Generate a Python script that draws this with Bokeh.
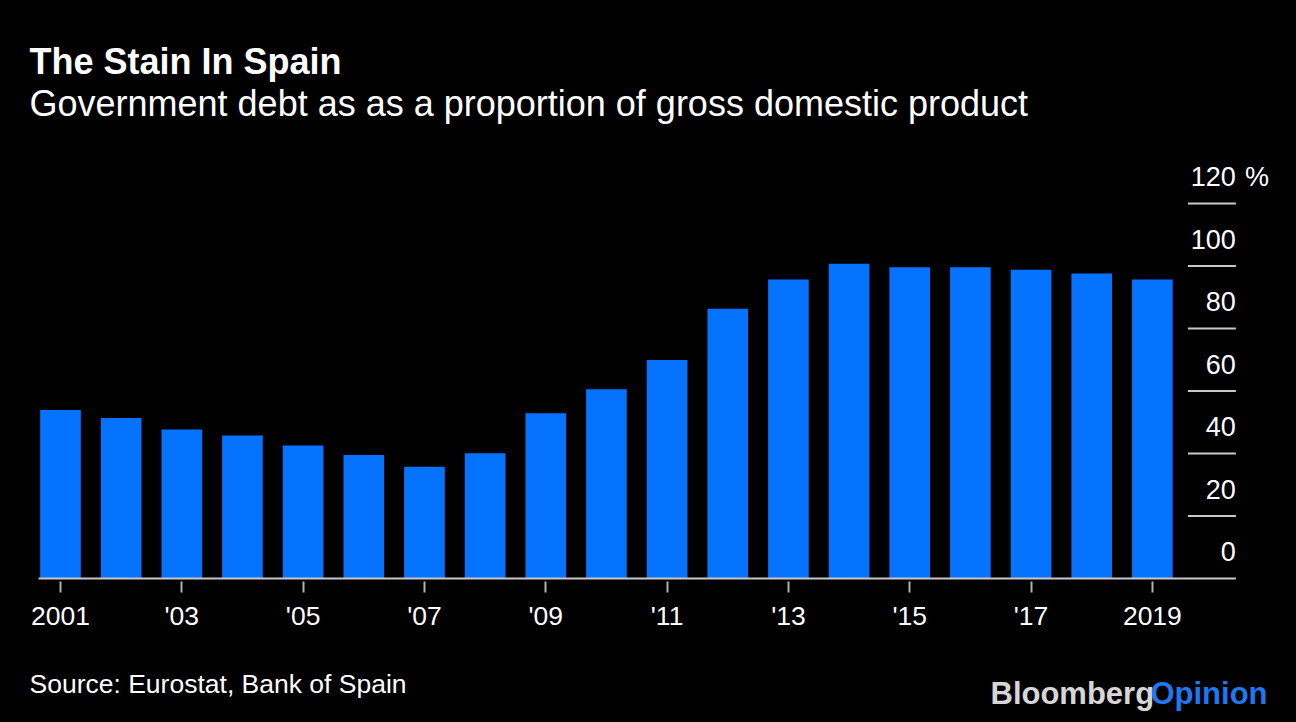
from bokeh.plotting import figure
from bokeh.models import Range1d, FixedTicker, ColumnDataSource
from bokeh.layouts import column
from bokeh.core.properties import value
from bokeh.embed import file_html
from bokeh.resources import INLINE

# ---- data ----
years = [2001, 2002, 2003, 2004, 2005, 2006, 2007, 2008, 2009, 2010,
         2011, 2012, 2013, 2014, 2015, 2016, 2017, 2018, 2019]
debt_pct = [53.9, 51.4, 47.7, 45.8, 42.6, 39.5, 35.8, 40.1, 52.9, 60.6,
            69.9, 86.3, 95.7, 100.7, 99.6, 99.6, 98.8, 97.6, 95.7]
x_tick_years = [2001, 2003, 2005, 2007, 2009, 2011, 2013, 2015, 2017, 2019]
x_tick_labels = ["2001", "'03", "'05", "'07", "'09", "'11", "'13", "'15", "'17", "2019"]
y_ticks = [0, 20, 40, 60, 80, 100, 120]
y_tick_labels = ["0", "20", "40", "60", "80", "100", "120"]
y_unit = "%"

title = "The Stain In Spain"
subtitle = "Government debt as as a proportion of gross domestic product"
source = "Source: Eurostat, Bank of Spain"
brand = ["Bloomberg", "Opinion"]

# ---- style ----
FONT = "Liberation Sans"
BG = "#000000"
BAR = "#0673ff"
GRID = "#c8c8c8"
TXT = "#ffffff"

W = 1296
HEAD_H, MAIN_H, FOOT_H = 150, 500, 72
px_per_year = 60.66
px_per_unit = 3.125
first_year_px = 60.0          # x of first bar centre
frame_h = 431                 # main frame height (bottom at page y 581)
x_start = years[0] - first_year_px / px_per_year
x_end = x_start + W / px_per_year
y_start = -3.0 / px_per_unit
y_end = y_start + frame_h / px_per_unit


def blank(h):
    f = figure(width=W, height=h, output_backend="svg", toolbar_location=None,
               x_range=Range1d(0, W), y_range=Range1d(h, 0),
               x_axis_location=None, y_axis_location=None,
               min_border=0, min_border_left=0, min_border_right=0,
               min_border_top=0, min_border_bottom=0,
               background_fill_color=BG, border_fill_color=BG, outline_line_color=None)
    f.grid.visible = False
    return f


# ---- header ----
head = blank(HEAD_H)
head.text(x=[29], y=[61], text=[title], text_font=value(FONT), text_font_size="36px",
          text_font_style="bold", text_color=TXT, text_baseline="alphabetic")
head.text(x=[29], y=[103], text=[subtitle], text_font=value(FONT), text_font_size="36px",
          text_color=TXT, text_baseline="alphabetic")

# ---- main chart ----
p = figure(width=W, height=MAIN_H, output_backend="svg", toolbar_location=None,
           x_range=Range1d(x_start, x_end), y_range=Range1d(y_start, y_end),
           y_axis_location=None, min_border_left=0, min_border_right=0,
           min_border_top=0, min_border_bottom=MAIN_H - frame_h,
           background_fill_color=BG, border_fill_color=BG, outline_line_color=None)
p.grid.visible = False

src = ColumnDataSource(dict(year=years, debt=debt_pct))
p.vbar(x="year", top="debt", bottom=0, width=0.67, source=src,
       fill_color=BAR, line_color=None)

grid_x0 = years[-1] + (1187 - 1151.5) / px_per_year
grid_x1 = years[-1] + (1235 - 1151.5) / px_per_year
base_x0 = years[0] - (60 - 38) / px_per_year
p.segment(x0=[base_x0], y0=[0], x1=[grid_x1], y1=[0], line_color=GRID, line_width=2)
p.segment(x0=[grid_x0] * (len(y_ticks) - 1), y0=y_ticks[1:],
          x1=[grid_x1] * (len(y_ticks) - 1), y1=y_ticks[1:],
          line_color=GRID, line_width=2)

p.text(x=[grid_x1] * len(y_ticks), y=y_ticks, text=y_tick_labels,
       text_align="right", text_baseline="middle", y_offset=-27,
       text_font=value(FONT), text_font_size="27px", text_color=TXT)
p.text(x=[grid_x1], y=[y_ticks[-1]], text=[y_unit],
       text_align="left", text_baseline="middle", x_offset=9, y_offset=-27,
       text_font=value(FONT), text_font_size="27px", text_color=TXT)

ax = p.xaxis[0]
ax.ticker = FixedTicker(ticks=x_tick_years)
ax.major_label_overrides = {y: l for y, l in zip(x_tick_years, x_tick_labels)}
ax.axis_line_color = None
ax.minor_tick_line_color = None
ax.major_tick_in = 0
ax.major_tick_out = 11
ax.major_tick_line_color = "#b0b0b0"
ax.major_tick_line_width = 2
ax.major_label_standoff = 8
ax.major_label_text_font = FONT
ax.major_label_text_font_size = "26.5px"
ax.major_label_text_color = TXT

# ---- footer ----
foot = blank(FOOT_H)
foot.text(x=[29], y=[33], text=[source], text_font=value(FONT), text_font_size="26.5px",
          text_color=TXT, text_baseline="alphabetic")
foot.text(x=[990], y=[43], text=[brand[0]], text_font=value(FONT), text_font_size="31px",
          text_font_style="bold", text_color="#d6d6d6", text_baseline="alphabetic")
foot.text(x=[1267], y=[43], text=[brand[1]], text_font=value(FONT), text_font_size="31px",
          text_font_style="bold", text_color="#1f78ef", text_baseline="alphabetic",
          text_align="right")

layout = column(head, p, foot, spacing=0)
html = file_html(layout, INLINE)
html = html.replace("<head>", "<head><style>html, body { background: #000000; }</style>", 1)
open("out.html", "w").write(html)
